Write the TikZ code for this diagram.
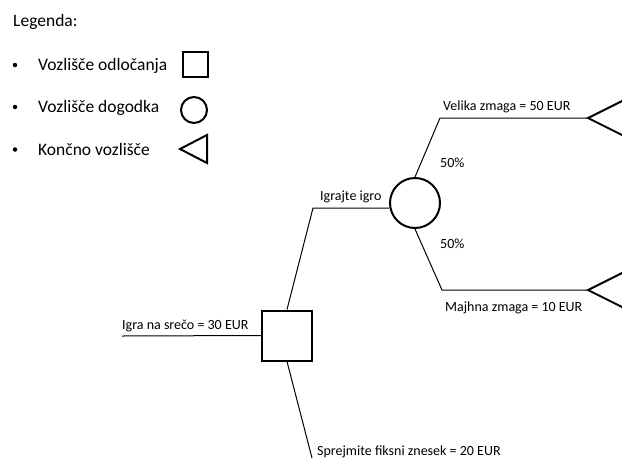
\documentclass[tikz,border=0pt]{standalone}
\usepackage{fontspec}
\setmainfont{Carlito}
\begin{document}
\begin{tikzpicture}[x=1pt,y=-1pt,
  leg/.style={anchor=base west,inner sep=0pt,font=\fontsize{17.5}{20}\selectfont},
  lbl/.style={anchor=base west,inner sep=0pt,font=\fontsize{14}{16}\selectfont},
  bul/.style={circle,fill=black,inner sep=0pt,minimum size=4.5pt},
  thinline/.style={line width=1pt},
  shp/.style={draw,line width=2pt,inner sep=0pt},
  decbox/.style={shp,rectangle},
  evcirc/.style={shp,circle}]
\useasboundingbox (0,0) rectangle (622,459);
\clip (0,0) rectangle (622,459);
% legend
\node[leg] (legtitle) at (13,26.7) {Legenda:};
\node[bul] (b1) at (15,65) {};
\node[bul] (b2) at (15,107) {};
\node[bul] (b3) at (15,149.5) {};
\node[leg] (l1) at (38,70.5) {Vozlišče odločanja};
\node[leg] (l2) at (38,112.5) {Vozlišče dogodka};
\node[leg] (l3) at (38,155) {Končno vozlišče};
\node[decbox,minimum size=25pt] (lsq) at (195.5,64.5) {};
\node[evcirc,minimum size=26pt] (lci) at (194,110) {};
\coordinate (ltip) at (180,149);
\coordinate (ltop) at (207,135);
\coordinate (lbot) at (207,163);
\draw[line width=2pt,line join=miter] (ltop) -- (ltip) -- (lbot) -- cycle;
% tree
\node[decbox,minimum size=50pt] (dec) at (287,335.5) {};
\node[evcirc,minimum size=50pt] (ev) at (415,203) {};
\coordinate (root) at (122,336);
\coordinate (k1) at (313,208);
\coordinate (u1) at (440,118);
\coordinate (d1) at (442,290);
\coordinate (s1) at (312,458);
\coordinate (t1) at (588,118);
\coordinate (t2) at (588,290);
\draw[thinline] (root) -- (dec.west);
\draw[thinline] (dec.north) -- (k1) -- (k1 -| ev.west);
\draw[thinline] (ev.north) -- (u1) -- (t1);
\draw[thinline] (ev.south) -- (d1) -- (t2);
\draw[thinline] (dec.south) -- (s1);
\coordinate (t1a) at (640,92);
\coordinate (t1b) at (640,144);
\coordinate (t2a) at (640,264);
\coordinate (t2b) at (640,316);
\draw[line width=2pt,line join=miter] (t1a) -- (t1) -- (t1b);
\draw[line width=2pt,line join=miter] (t2a) -- (t2) -- (t2b);
% labels
\node[lbl] (vz) at (443,110) {Velika zmaga = 50 EUR};
\node[lbl] (p1) at (440,167) {50\%};
\node[lbl] (p2) at (440,248) {50\%};
\node[lbl] (ig) at (320,200.7) {Igrajte igro};
\node[lbl] (mz) at (445,311) {Majhna zmaga = 10 EUR};
\node[lbl] (ins) at (122,329) {Igra na srečo = 30 EUR};
\node[lbl] (sfz) at (317,455.5) {Sprejmite fiksni znesek = 20 EUR};
\end{tikzpicture}
\end{document}
